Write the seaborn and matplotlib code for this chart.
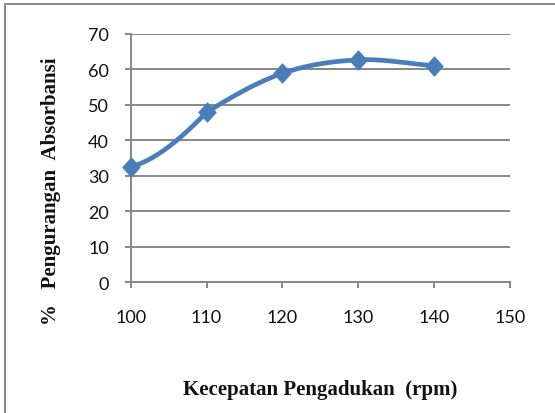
import numpy as np
import pandas as pd
import matplotlib
matplotlib.use("Agg")
import matplotlib.pyplot as plt
from matplotlib.path import Path
from matplotlib.patches import Rectangle
import seaborn as sns

# Stirring speed (rpm) and absorbance reduction (%)
speed = [100, 110, 120, 130, 140]
reduction = [32.5, 47.9, 58.9, 62.7, 61.0]

x_ticks = [100, 110, 120, 130, 140, 150]
y_ticks = [0, 10, 20, 30, 40, 50, 60, 70]

LINE = "#4A7EBB"
GRID = "#878787"
TEXT = "#111111"


def smooth_curve(xs, ys, steps=40):
    """Bezier smoothing through the points, office-chart style.

    Interior tangents follow the neighbouring points (Catmull-Rom); the
    opening segment bends upward into the second point the way a
    spreadsheet "smoothed line" does.
    """
    xs = np.asarray(xs, float)
    ys = np.asarray(ys, float)
    n = len(xs)
    chord = np.diff(ys) / np.diff(xs)
    slope = np.empty(n)
    slope[1:-1] = (ys[2:] - ys[:-2]) / (xs[2:] - xs[:-2])
    slope[0] = chord[0]
    slope[-1] = chord[-1]
    t = np.linspace(0, 1, steps)
    px, py = [], []
    for i in range(n - 1):
        dx = xs[i + 1] - xs[i]
        s_start, s_end = slope[i], slope[i + 1]
        if i == 0 and n > 2:
            bend = chord[0] - chord[1]
            s_start = chord[0] - 2.2 * bend
            s_end = chord[0] + 1.5 * bend
        x0, y0 = xs[i], ys[i]
        x3, y3 = xs[i + 1], ys[i + 1]
        x1, y1 = x0 + dx / 3, y0 + s_start * dx / 3
        x2, y2 = x3 - dx / 3, y3 - s_end * dx / 3
        b0, b1, b2, b3 = (1 - t) ** 3, 3 * (1 - t) ** 2 * t, 3 * (1 - t) * t ** 2, t ** 3
        seg_x = b0 * x0 + b1 * x1 + b2 * x2 + b3 * x3
        seg_y = b0 * y0 + b1 * y1 + b2 * y2 + b3 * y3
        if i > 0:
            seg_x, seg_y = seg_x[1:], seg_y[1:]
        px.extend(seg_x)
        py.extend(seg_y)
    return np.array(px), np.array(py)


sns.set_theme(style="white")
plt.rcParams["font.family"] = ["Lato", "DejaVu Sans"]

fig = plt.figure(figsize=(5.55, 4.14), dpi=100)
ax = fig.add_axes([0.2355, 0.3164, 0.6835, 0.5991])

# chart frame (right and bottom edges run off the canvas)
fig.patches.append(Rectangle((5 / 555, -0.1), 1.2, 1 - 5 / 414 + 0.1, transform=fig.transFigure,
                             fill=False, edgecolor="#8c8c8c", linewidth=1.5))

sx, sy = smooth_curve(speed, reduction)
curve = pd.DataFrame({"speed": sx, "reduction": sy})
points = pd.DataFrame({"speed": speed, "reduction": reduction})

sns.lineplot(data=curve, x="speed", y="reduction", ax=ax, color=LINE, linewidth=3.4,
             sort=False, estimator=None, zorder=3)

diamond = Path([(0, 1), (0.9, 0), (0, -1), (-0.9, 0), (0, 1)],
               [Path.MOVETO, Path.LINETO, Path.LINETO, Path.LINETO, Path.CLOSEPOLY])
ax.plot(points["speed"], points["reduction"], linestyle="none", marker=diamond,
        markersize=13.5, color=LINE, markeredgecolor=LINE, zorder=4, clip_on=False)

ax.set_xlim(100, 150)
ax.set_ylim(0, 70)
ax.set_xticks(x_ticks)
ax.set_yticks(y_ticks)
ax.set_xticklabels([str(v) for v in x_ticks])
ax.set_yticklabels([str(v) for v in y_ticks])

ax.grid(axis="y", color=GRID, linewidth=1.4)
ax.grid(axis="x", visible=False)
ax.set_axisbelow(True)

for side in ["top", "right"]:
    ax.spines[side].set_visible(False)
for side in ["left", "bottom"]:
    ax.spines[side].set_color(GRID)
    ax.spines[side].set_linewidth(1.4)

ax.tick_params(axis="both", which="major", length=4.6, width=1.4, color=GRID,
               labelsize=13, labelcolor=TEXT, direction="out")
ax.tick_params(axis="x", pad=15, bottom=True)
ax.tick_params(axis="y", pad=11, left=True)

ax.set_xlabel("Kecepatan Pengadukan  (rpm)", family="Liberation Serif", fontweight="bold",
              fontsize=15, color=TEXT)
ax.set_ylabel("%   Pengurangan  Absorbansi", family="Liberation Serif", fontweight="bold",
              fontsize=15, color=TEXT)
ax.xaxis.set_label_coords(0.5, -0.393)
ax.yaxis.set_label_coords(-0.185, 0.37)

fig.savefig("out.png", dpi=100)
